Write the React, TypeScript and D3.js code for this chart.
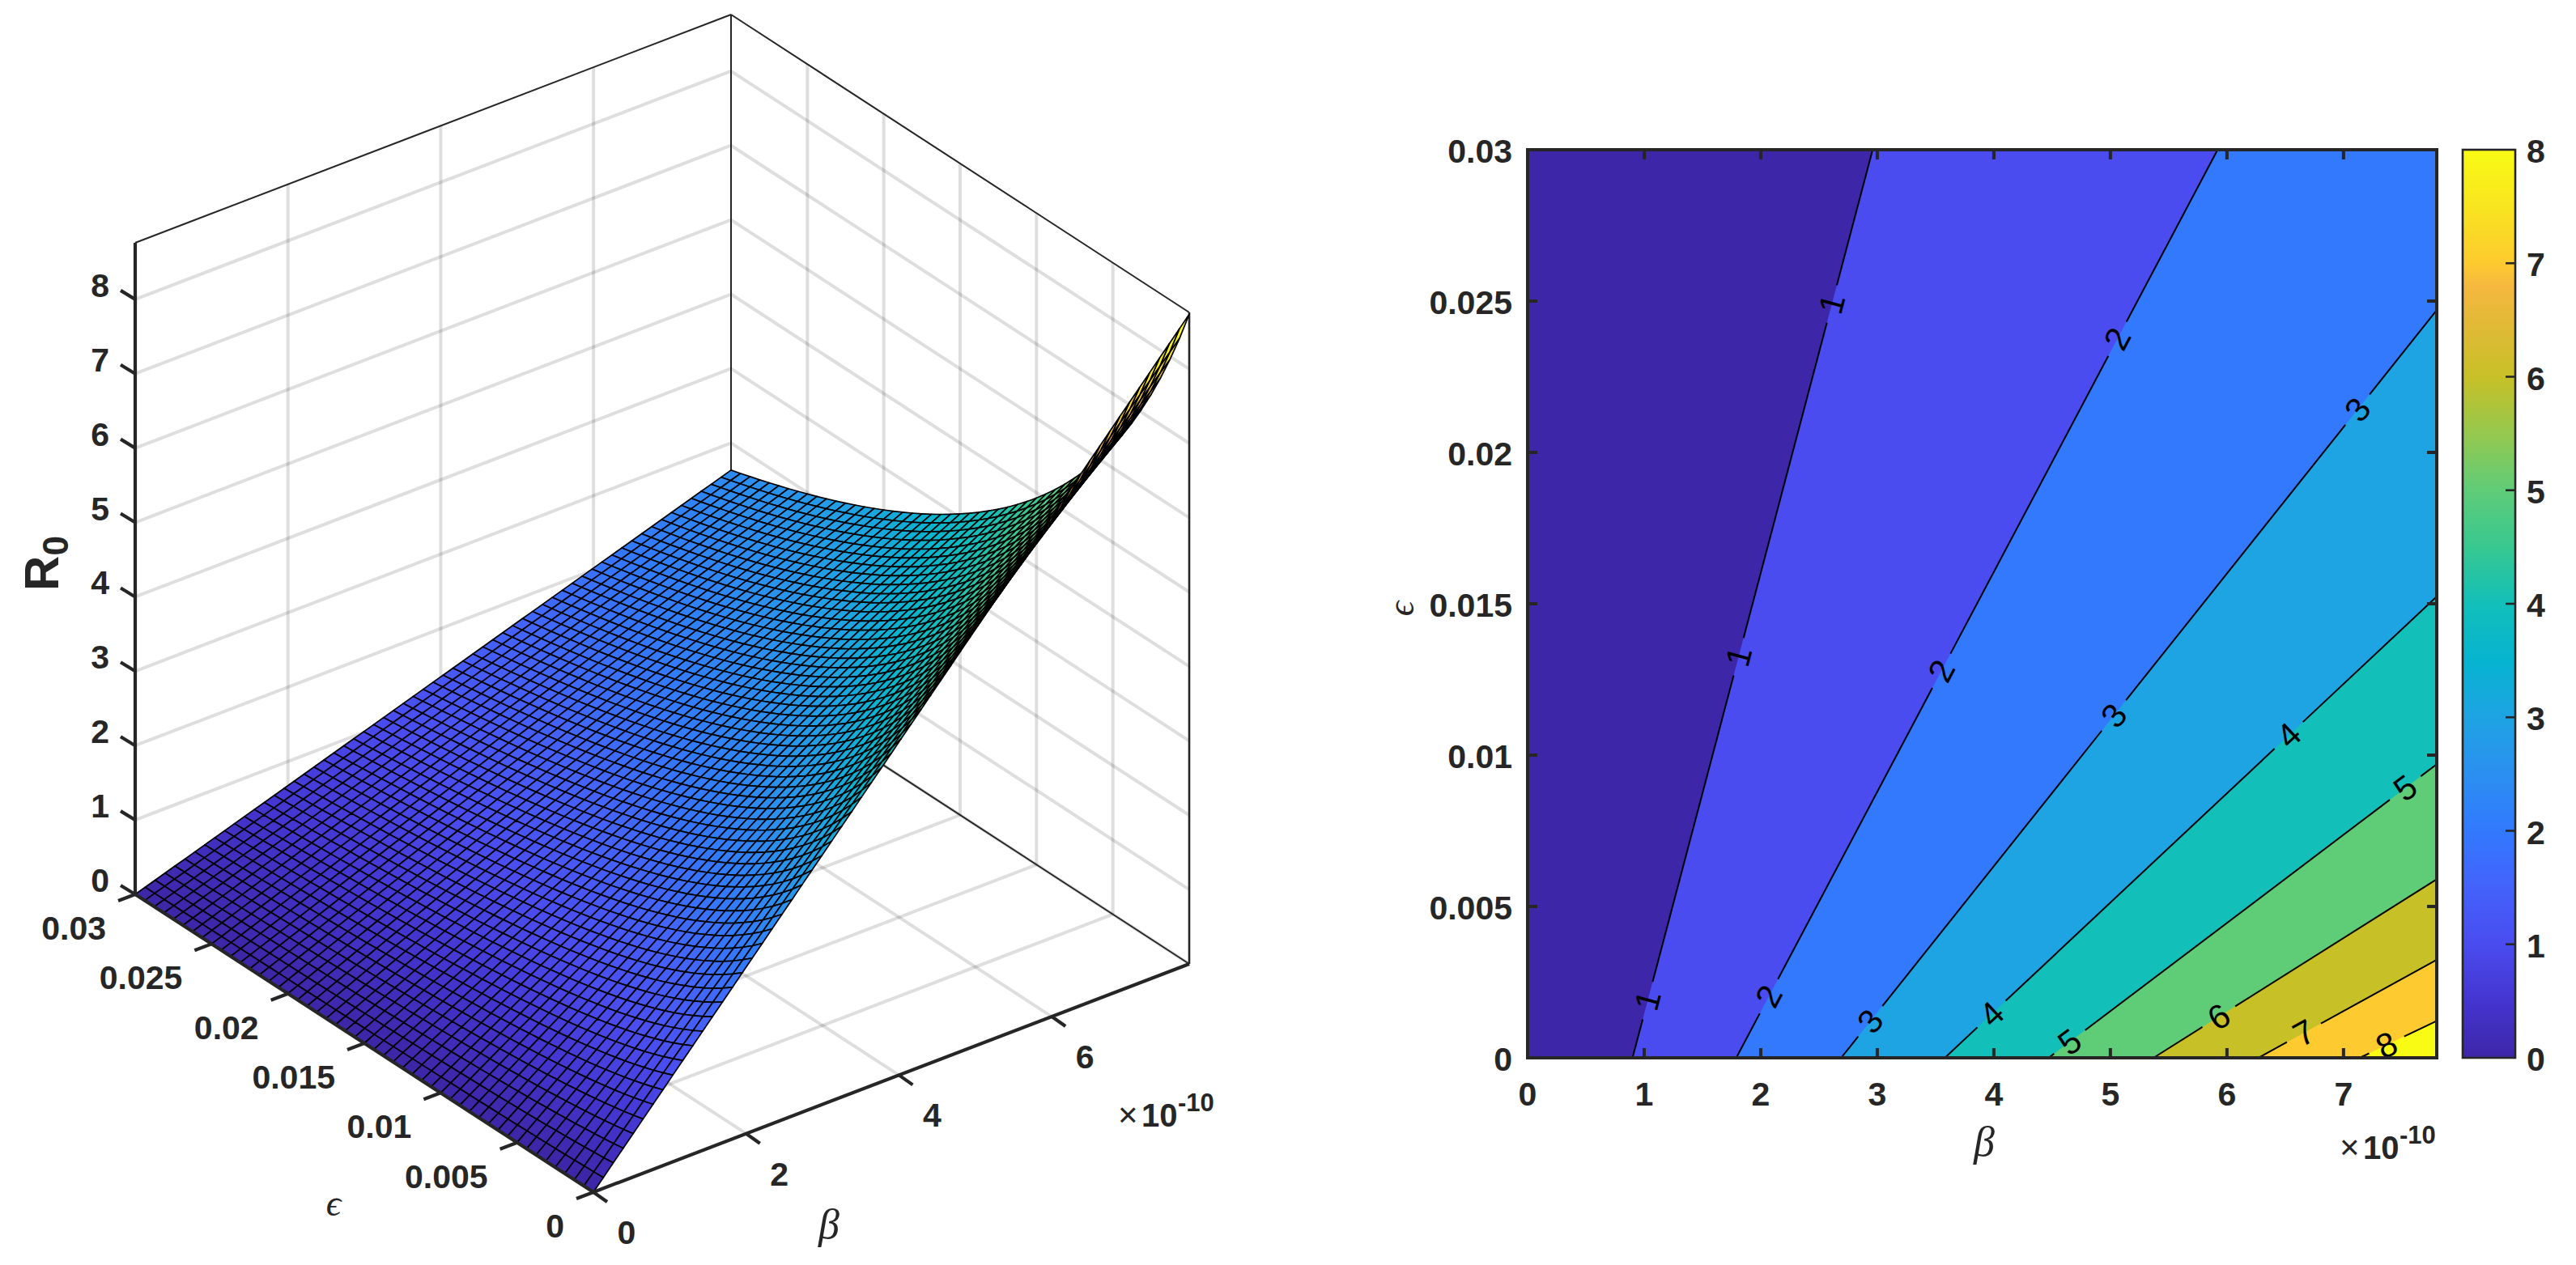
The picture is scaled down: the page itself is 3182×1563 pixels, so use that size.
import React from 'react';
import * as d3 from 'd3';

// mesh spacing is estimated from the cell size in the picture, the exact line count was not counted
const epsGrid = [0, 0.000625, 0.00125, 0.001875, 0.0025, 0.003125, 0.00375, 0.004375, 0.005, 0.005625, 0.00625, 0.006875, 0.0075, 0.008125, 0.00875, 0.009375, 0.01, 0.010625, 0.01125, 0.011875, 0.0125, 0.013125, 0.01375, 0.014375, 0.015, 0.015625, 0.01625, 0.016875, 0.0175, 0.018125, 0.01875, 0.019375, 0.02, 0.020625, 0.02125, 0.021875, 0.0225, 0.023125, 0.02375, 0.024375, 0.025, 0.025625, 0.02625, 0.026875, 0.0275, 0.028125, 0.02875, 0.029375, 0.03];
const betaGrid = [0, 0.13, 0.26, 0.39, 0.52, 0.65, 0.78, 0.91, 1.04, 1.17, 1.3, 1.43, 1.56, 1.69, 1.82, 1.95, 2.08, 2.21, 2.34, 2.47, 2.6, 2.73, 2.86, 2.99, 3.12, 3.25, 3.38, 3.51, 3.64, 3.77, 3.9, 4.03, 4.16, 4.29, 4.42, 4.55, 4.68, 4.81, 4.94, 5.07, 5.2, 5.33, 5.46, 5.59, 5.72, 5.85, 5.98, 6.11, 6.24, 6.37, 6.5, 6.63, 6.76, 6.89, 7.02, 7.15, 7.28, 7.41, 7.54, 7.67, 7.8];
// R0 at beta = 7.8 for each row of epsGrid. Not read row by row: these come from a
// curve fitted by hand to the contour crossings on the right hand plot (8 points).
// zAt below assumes R0 is linear in beta, which those crossings suggest.
const r0AtBetaMax = [8.735, 8.333, 7.966, 7.631, 7.322, 7.038, 6.775, 6.53, 6.303, 6.091, 5.893, 5.707, 5.533, 5.369, 5.214, 5.068, 4.93, 4.8, 4.676, 4.558, 4.446, 4.34, 4.238, 4.141, 4.049, 3.96, 3.876, 3.794, 3.716, 3.642, 3.57, 3.501, 3.435, 3.371, 3.309, 3.25, 3.192, 3.137, 3.084, 3.032, 2.982, 2.934, 2.887, 2.842, 2.798, 2.755, 2.714, 2.674, 2.635];

const betaMax = 7.8;
const epsMax = 0.03;
const zTop = 8.76;
const surfaceZMax = 8.735;

const zTicks = [0, 1, 2, 3, 4, 5, 6, 7, 8];
const beta3dTicks = [0, 2, 4, 6];
const betaTicks = [0, 1, 2, 3, 4, 5, 6, 7];
const epsTicks = [0, 0.005, 0.01, 0.015, 0.02, 0.025, 0.03];
const cbarTicks = [0, 1, 2, 3, 4, 5, 6, 7, 8];

// contour lines, read on the right hand plot
const contourLevels = [1, 2, 3, 4, 5, 6, 7, 8];
const contourStartBeta = [0.9, 1.79, 2.69, 3.58, 4.47, 5.37, 6.27, 7.14];
const contourEndBeta = [2.96, 5.92, 7.8, 7.8, 7.8, 7.8, 7.8, 7.8];
const contourEndEps = [0.03, 0.03, 0.0247, 0.01524, 0.0097, 0.0059, 0.00324, 0.00122];
const labelLevel = [1, 1, 1, 2, 2, 2, 3, 3, 3, 4, 4, 5, 5, 6, 7, 8];
const labelBeta = [2.61, 1.81, 1.03, 5.06, 3.55, 2.07, 7.12, 5.03, 2.94, 6.53, 3.98, 7.53, 4.65, 5.93, 6.66, 7.37];

const paruStops = [0, 0.0625, 0.125, 0.1875, 0.25, 0.3125, 0.375, 0.4375, 0.5, 0.5625, 0.625, 0.6875, 0.75, 0.8125, 0.85, 0.875, 0.9375, 1];
const paruColors = ['#3e26a8', '#4435d0', '#4a4cef', '#4462fb', '#3279fe', '#2b8ff0', '#1ea3e3', '#06b4d0', '#12bfb9', '#38c890', '#5fcc78', '#95c84e', '#c8c027', '#e4b938', '#f6b83f', '#fdca2f', '#f8e51f', '#f9fb14'];

const W = 3182;
const H = 1563;
const ink = '#262626';
const sans = '"Liberation Sans", Arial, sans-serif';
const serif = '"Liberation Serif", "DejaVu Serif", serif';

const paru = d3.scaleLinear<string>().domain(paruStops).range(paruColors).clamp(true);

// 3d box: pixel corner of beta=0, eps=0, z=0 and the pixel run of each axis
const origin = { x: 733, y: 1473 };
const betaRun = { x: 736, y: -282 };
const epsRun = { x: -566, y: -368 };
const bT = d3.scaleLinear().domain([0, betaMax]).range([0, 1]);
const eT = d3.scaleLinear().domain([0, epsMax]).range([0, 1]);
const zY = d3.scaleLinear().domain([0, zTop]).range([0, 805]);

const proj = (b: number, e: number, z: number): [number, number] => [
  origin.x + bT(b) * betaRun.x + eT(e) * epsRun.x,
  origin.y + bT(b) * betaRun.y + eT(e) * epsRun.y - zY(z),
];

const line3d = (a: [number, number, number], c: [number, number, number]) =>
  d3.line()([proj(a[0], a[1], a[2]), proj(c[0], c[1], c[2])]) as string;

const zAt = (i: number, j: number) => (r0AtBetaMax[i] * betaGrid[j]) / betaMax;

// right hand plot
const xS = d3.scaleLinear().domain([0, betaMax]).range([1887, 3010]);
const yS = d3.scaleLinear().domain([0, epsMax]).range([1307, 185]);
const cS = d3.scaleLinear().domain([0, 8]).range([1307, 185]);

const Exponent = ({ x, y }: { x: number; y: number }) => (
  <g fill={ink}>
    <text x={x} y={y} fontFamily={sans} fontSize={42}>×</text>
    <text x={x + 29} y={y} fontFamily={sans} fontWeight="bold" fontSize={40}>10</text>
    <text x={x + 74} y={y - 19} fontFamily={sans} fontWeight="bold" fontSize={31}>-10</text>
  </g>
);

const Surface3D = () => {
  const faces: React.ReactNode[] = [];
  for (let i = epsGrid.length - 2; i >= 0; i--) {
    for (let j = betaGrid.length - 2; j >= 0; j--) {
      const d = d3.line()([
        proj(betaGrid[j], epsGrid[i], zAt(i, j)),
        proj(betaGrid[j + 1], epsGrid[i], zAt(i, j + 1)),
        proj(betaGrid[j + 1], epsGrid[i + 1], zAt(i + 1, j + 1)),
        proj(betaGrid[j], epsGrid[i + 1], zAt(i + 1, j)),
      ]) as string;
      faces.push(<path key={i + '-' + j} d={d + 'Z'} fill={paru(zAt(i, j) / surfaceZMax)} stroke="#000" strokeWidth={1.7} strokeLinejoin="round" />);
    }
  }

  return (
    <g>
      {/* grid on the two back walls and the floor */}
      <g stroke="#000" strokeOpacity={0.13} strokeWidth={4} fill="none">
        {zTicks.map((z) => <path key={'za' + z} d={line3d([0, epsMax, z], [betaMax, epsMax, z])} />)}
        {zTicks.map((z) => <path key={'zb' + z} d={line3d([betaMax, epsMax, z], [betaMax, 0, z])} />)}
        {beta3dTicks.slice(1).map((b) => <path key={'bw' + b} d={line3d([b, epsMax, 0], [b, epsMax, zTop])} />)}
        {beta3dTicks.slice(1).map((b) => <path key={'bf' + b} d={line3d([b, 0, 0], [b, epsMax, 0])} />)}
        {epsTicks.slice(1, -1).map((e) => <path key={'ew' + e} d={line3d([betaMax, e, 0], [betaMax, e, zTop])} />)}
        {epsTicks.slice(1, -1).map((e) => <path key={'ef' + e} d={line3d([0, e, 0], [betaMax, e, 0])} />)}
      </g>
      {/* box edges behind the surface */}
      <g stroke={ink} strokeWidth={2} fill="none">
        <path d={line3d([0, epsMax, zTop], [betaMax, epsMax, zTop])} />
        <path d={line3d([betaMax, epsMax, zTop], [betaMax, 0, zTop])} />
        <path d={line3d([betaMax, epsMax, 0], [betaMax, epsMax, zTop])} />
        <path d={line3d([betaMax, epsMax, 0], [betaMax, 0, 0])} />
        <path d={line3d([betaMax, 0, 0], [betaMax, 0, zTop])} strokeWidth={2.6} />
      </g>
      {faces}
      {/* front axes */}
      <g stroke={ink} strokeWidth={4.2} fill="none">
        <path d={line3d([0, epsMax, 0], [0, epsMax, zTop])} />
        <path d={line3d([0, 0, 0], [0, epsMax, 0])} />
        <path d={line3d([0, 0, 0], [betaMax, 0, 0])} />
        {zTicks.map((z) => {
          const [x, y] = proj(0, epsMax, z);
          return <line key={z} x1={x} y1={y} x2={x - 18} y2={y - 11} />;
        })}
        {epsTicks.map((e) => {
          const [x, y] = proj(0, e, 0);
          return <line key={e} x1={x} y1={y} x2={x - 21} y2={y + 8} />;
        })}
        {beta3dTicks.map((b) => {
          const [x, y] = proj(b, 0, 0);
          return <line key={b} x1={x} y1={y} x2={x + 17} y2={y + 12} />;
        })}
      </g>
      <g fontFamily={sans} fontWeight="bold" fontSize={41} fill={ink}>
        {zTicks.map((z) => {
          const [x, y] = proj(0, epsMax, z);
          return <text key={z} x={x - 32} y={y - 17} textAnchor="end" dominantBaseline="central">{z}</text>;
        })}
        {epsTicks.map((e) => {
          const [x, y] = proj(0, e, 0);
          return <text key={e} x={x - 36} y={y + 42} textAnchor="end" dominantBaseline="central">{e}</text>;
        })}
        {beta3dTicks.map((b) => {
          const [x, y] = proj(b, 0, 0);
          return <text key={b} x={x + 41} y={y + 50} textAnchor="middle" dominantBaseline="central">{b}</text>;
        })}
        <text transform="translate(72,696) rotate(-90)" fontSize={60} textAnchor="middle">
          R<tspan fontSize={44} dy={12}>0</tspan>
        </text>
      </g>
      <text x={1024} y={1530} fontFamily={serif} fontStyle="italic" fontSize={52} fill={ink} textAnchor="middle">β</text>
      <text x={412} y={1502} fontFamily={serif} fontStyle="italic" fontSize={46} fill={ink} textAnchor="middle">ϵ</text>
      <Exponent x={1381} y={1392} />
    </g>
  );
};

const ContourPlot = () => {
  const bands = contourLevels.map((lv, k) => {
    const pts: [number, number][] = [[contourStartBeta[k], 0], [contourEndBeta[k], contourEndEps[k]]];
    if (contourEndEps[k] === epsMax) pts.push([betaMax, epsMax]);
    pts.push([betaMax, 0]);
    const d = d3.line().x((p) => xS(p[0])).y((p) => yS(p[1]))(pts) as string;
    return <path key={lv} d={d + 'Z'} fill={paru(lv / 8)} />;
  });

  const lines = contourLevels.map((lv, k) => {
    const a = [xS(contourStartBeta[k]), yS(0)];
    const b = [xS(contourEndBeta[k]), yS(contourEndEps[k])];
    const len = Math.hypot(b[0] - a[0], b[1] - a[1]);
    const angle = (Math.atan2(b[1] - a[1], b[0] - a[0]) * 180) / Math.PI;
    const ats = labelBeta
      .filter((_, m) => labelLevel[m] === lv)
      .map((lb) => (xS(lb) - a[0]) / (b[0] - a[0]))
      .sort((p, q) => p - q);
    const gap = 24 / len;
    const segs: [number, number][] = [];
    let from = 0;
    ats.forEach((t) => {
      if (t - gap > from) segs.push([from, t - gap]);
      from = t + gap;
    });
    if (from < 1) segs.push([from, 1]);
    return (
      <g key={lv}>
        {segs.map((s, n) => (
          <line key={n} x1={a[0] + (b[0] - a[0]) * s[0]} y1={a[1] + (b[1] - a[1]) * s[0]} x2={a[0] + (b[0] - a[0]) * s[1]} y2={a[1] + (b[1] - a[1]) * s[1]} stroke="#000" strokeWidth={2} />
        ))}
        {ats.map((t, n) => {
          const px = a[0] + (b[0] - a[0]) * t;
          const py = a[1] + (b[1] - a[1]) * t;
          return (
            <text key={n} transform={`translate(${px},${py}) rotate(${angle})`} textAnchor="middle" dominantBaseline="central" fontFamily={sans} fontSize={42} fill="#000">{lv}</text>
          );
        })}
      </g>
    );
  });

  return (
    <g>
      <rect x={xS(0)} y={yS(epsMax)} width={xS(betaMax) - xS(0)} height={yS(0) - yS(epsMax)} fill={paru(0)} />
      {bands}
      {lines}
      <g stroke={ink} strokeWidth={4} fill="none">
        <rect x={xS(0)} y={yS(epsMax)} width={xS(betaMax) - xS(0)} height={yS(0) - yS(epsMax)} />
        {betaTicks.slice(1).map((b) => (
          <g key={b}>
            <line x1={xS(b)} x2={xS(b)} y1={yS(0)} y2={yS(0) - 12} />
            <line x1={xS(b)} x2={xS(b)} y1={yS(epsMax)} y2={yS(epsMax) + 12} />
          </g>
        ))}
        {epsTicks.slice(1, -1).map((e) => (
          <g key={e}>
            <line x1={xS(0)} x2={xS(0) + 12} y1={yS(e)} y2={yS(e)} />
            <line x1={xS(betaMax)} x2={xS(betaMax) - 12} y1={yS(e)} y2={yS(e)} />
          </g>
        ))}
      </g>
      <g fontFamily={sans} fontWeight="bold" fontSize={41} fill={ink}>
        {betaTicks.map((b) => <text key={b} x={xS(b)} y={1352} textAnchor="middle" dominantBaseline="central">{b}</text>)}
        {epsTicks.map((e) => <text key={e} x={1868} y={yS(e) + 2} textAnchor="end" dominantBaseline="central">{e}</text>)}
        {cbarTicks.map((c) => <text key={c} x={3121} y={cS(c) + 2} dominantBaseline="central">{c}</text>)}
      </g>
      <text x={2451} y={1428} fontFamily={serif} fontStyle="italic" fontSize={52} fill={ink} textAnchor="middle">β</text>
      <text transform="translate(1746,752) rotate(-90)" fontFamily={serif} fontStyle="italic" fontSize={46} fill={ink} textAnchor="middle">ϵ</text>
      <Exponent x={2890} y={1432} />
      {/* colorbar */}
      <rect x={3042} y={185} width={65} height={1122} fill="url(#paruBar)" stroke={ink} strokeWidth={2.6} />
      {cbarTicks.slice(1, -1).map((c) => <line key={c} x1={3107} x2={3095} y1={cS(c)} y2={cS(c)} stroke={ink} strokeWidth={2.6} />)}
    </g>
  );
};

export default function App() {
  return (
    <svg width={W} height={H} viewBox={`0 0 ${W} ${H}`} style={{ position: 'absolute', left: 0, top: 0, background: '#fff' }}>
      <defs>
        <linearGradient id="paruBar" x1="0" y1="1" x2="0" y2="0">
          {paruStops.map((s, i) => <stop key={s} offset={s} stopColor={paruColors[i]} />)}
        </linearGradient>
      </defs>
      <Surface3D />
      <ContourPlot />
    </svg>
  );
}
